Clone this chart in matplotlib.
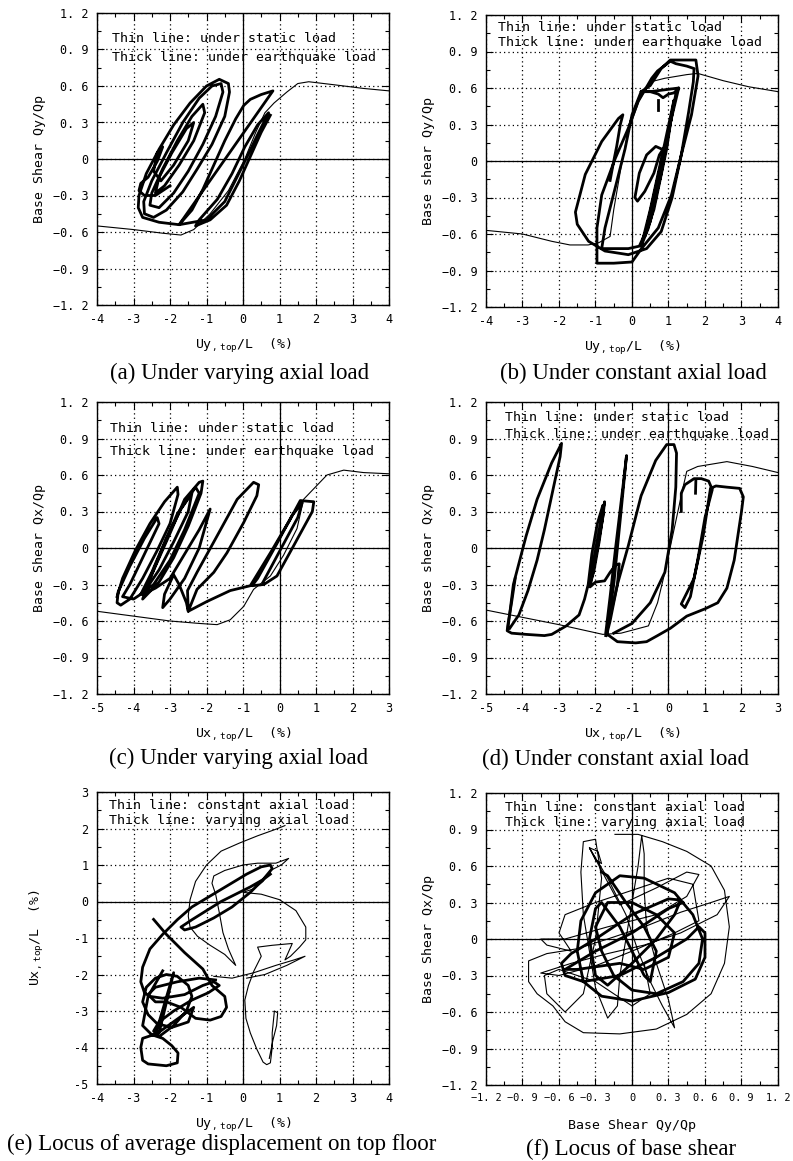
import numpy as np
import matplotlib
matplotlib.use("Agg")
import matplotlib.pyplot as plt

plt.rcParams['font.family'] = ['DejaVu Sans Mono']
plt.rcParams['mathtext.fontset'] = 'custom'
plt.rcParams['mathtext.rm'] = 'DejaVu Sans Mono'
plt.rcParams['mathtext.it'] = 'DejaVu Sans Mono'

# ---------------- data ----------------
qy_ticks = [-1.2, -0.9, -0.6, -0.3, 0, 0.3, 0.6, 0.9, 1.2]
qy_labels = ['\u22121. 2', '\u22120. 9', '\u22120. 6', '\u22120. 3', '0', '0. 3', '0. 6', '0. 9', '1. 2']
uy_ticks = [-4, -3, -2, -1, 0, 1, 2, 3, 4]
ux_ticks = [-5, -4, -3, -2, -1, 0, 1, 2, 3]
e_yticks = [-5, -4, -3, -2, -1, 0, 1, 2, 3]
f_xlabels = ['\u22121. 2', '\u22120. 9', '\u22120. 6', '\u22120. 3', '0', '0. 3', '0. 6', '0. 9', '1. 2']

# (a) varying axial load, Y direction
a_static = [(-4, -0.55), (-3, -0.58), (-2.2, -0.61), (-1.7, -0.625), (-1.35, -0.58), (-0.9, -0.45),
            (-0.4, -0.26), (0.05, 0.0), (0.35, 0.22), (0.6, 0.38), (0.85, 0.46), (1.2, 0.55),
            (1.5, 0.62), (1.8, 0.635), (2.5, 0.61), (3.3, 0.58), (4, 0.56)]
a_quake = [(0.75, 0.36), (0.5, 0.22), (0.2, 0.02), (-0.1, -0.18), (-0.45, -0.38), (-0.9, -0.5),
           (-1.3, -0.55), (-1.2, -0.5), (-0.7, -0.33), (-0.3, -0.12), (0.05, 0.1), (0.4, 0.28),
           (0.7, 0.38), (0.4, 0.2), (0.0, -0.05), (-0.5, -0.35), (-1.0, -0.5), (-1.75, -0.54),
           (0.82, 0.56), (0.5, 0.53), (0.2, 0.49), (0.02, 0.44), (-0.2, 0.33),
           (-0.5, 0.15), (-0.8, -0.05), (-1.1, -0.25), (-1.4, -0.42), (-1.75, -0.54),
           (-2.3, -0.52), (-2.75, -0.48), (-2.87, -0.4), (-2.85, -0.3), (-2.65, -0.12), (-2.3, 0.08),
           (-1.9, 0.28), (-1.45, 0.46), (-1.0, 0.6), (-0.65, 0.655), (-0.4, 0.62), (-0.37, 0.55),
           (-0.5, 0.35), (-0.85, 0.12), (-1.25, -0.08), (-1.65, -0.27), (-2.1, -0.42), (-2.45, -0.48),
           (-2.7, -0.45), (-2.72, -0.35), (-2.5, -0.18), (-2.1, 0.05), (-1.65, 0.3), (-1.2, 0.5),
           (-0.85, 0.6), (-0.6, 0.62), (-0.55, 0.55), (-0.75, 0.35), (-1.1, 0.12), (-1.5, -0.1),
           (-1.9, -0.28), (-2.3, -0.4), (-2.55, -0.38), (-2.5, -0.28), (-2.2, -0.08), (-1.8, 0.15),
           (-1.4, 0.35), (-1.1, 0.45), (-1.05, 0.38), (-1.35, 0.15), (-1.75, -0.05), (-2.15, -0.22),
           (-2.4, -0.28), (-2.3, -0.15), (-1.95, 0.05), (-1.55, 0.25), (-1.35, 0.3), (-1.5, 0.15),
           (-1.9, -0.05), (-2.25, -0.18), (-2.45, -0.1), (-2.35, 0.05), (-2.2, 0.1), (-2.35, -0.02),
           (-2.6, -0.15), (-2.8, -0.2), (-2.85, -0.26), (-2.7, -0.3), (-2.4, -0.3), (-2.0, -0.22)]

# (b) constant axial load, Y direction
b_static = [(-4, -0.57), (-3, -0.6), (-2.2, -0.66), (-1.7, -0.69), (-1.2, -0.69), (-0.9, -0.67),
            (-0.6, -0.62), (-0.5, -0.4), (-0.3, -0.05), (-0.1, 0.25), (0.2, 0.5), (0.5, 0.65),
            (0.9, 0.68), (1.5, 0.71), (1.8, 0.72), (2.5, 0.66), (3.2, 0.61), (4, 0.57)]
b_quake = [(-0.6, -0.16), (-0.5, 0.0), (-0.42, 0.12), (-0.32, 0.3), (-0.25, 0.38), (-0.37, 0.35),
           (-0.83, 0.16), (-1.28, -0.11), (-1.55, -0.42), (-1.5, -0.52), (-1.19, -0.66), (-0.74, -0.74),
           (-0.1, -0.77), (0.4, -0.72), (0.8, -0.58), (1.1, -0.3), (1.35, 0.05), (1.55, 0.4),
           (1.68, 0.65), (1.7, 0.76), (1.5, 0.78), (1.2, 0.8), (1.05, 0.82), (0.7, 0.74),
           (0.54, 0.68), (0.17, 0.49), (-0.1, 0.27), (-0.46, 0.02), (-0.83, -0.28), (-0.96, -0.55),
           (-0.96, -0.84), (-0.5, -0.84), (0.0, -0.83), (0.26, -0.72), (0.72, -0.55), (1.08, -0.28),
           (1.35, 0.05), (1.63, 0.38), (1.81, 0.7), (1.75, 0.83), (1.05, 0.83), (0.8, 0.76),
           (0.5, 0.62), (0.25, 0.57), (0.0, 0.38), (-0.19, 0.1), (-0.46, -0.22), (-0.74, -0.55),
           (-0.83, -0.72), (-0.5, -0.72), (-0.1, -0.72), (0.2, -0.7), (0.5, -0.5), (0.8, -0.1),
           (1.0, 0.25), (1.2, 0.5), (1.28, 0.6), (1.15, 0.56), (1.0, 0.55), (0.85, 0.52),
           (0.72, 0.55), (0.5, 0.57), (0.25, 0.57), (0.5, 0.57), (1.28, 0.6), (1.2, 0.55),
           (0.8, -0.1), (0.45, -0.55), (0.25, -0.7), (0.5, -0.4), (0.9, 0.15), (1.15, 0.5),
           (0.95, 0.1), (0.6, -0.4), (0.35, -0.62), (0.7, -0.15), (0.9, 0.12), (0.75, 0.05),
           (0.6, -0.1), (0.35, -0.25), (0.15, -0.33), (0.08, -0.3), (0.2, -0.1), (0.4, 0.05),
           (0.65, 0.12), (0.8, 0.1)]
b_spike = [(0.72, 0.5), (0.72, 0.42)]

# (c) varying axial load, X direction
c_static = [(-5, -0.52), (-4, -0.56), (-3, -0.6), (-2.2, -0.62), (-1.71, -0.63), (-1.35, -0.59),
            (-0.98, -0.48), (-0.71, -0.34), (-0.25, -0.23), (0.11, -0.06), (0.48, 0.16), (0.66, 0.4),
            (1.3, 0.6), (1.76, 0.64), (2.3, 0.62), (3, 0.61)]
c_quake = [(-4.45, -0.4), (-4.3, -0.25), (-3.95, -0.02), (-3.55, 0.2), (-3.15, 0.38), (-2.8, 0.5),
           (-2.78, 0.44), (-3.0, 0.2), (-3.35, -0.02), (-3.75, -0.25), (-4.1, -0.42), (-4.35, -0.47),
           (-4.45, -0.45), (-4.42, -0.36), (-4.1, -0.15), (-3.7, 0.08), (-3.35, 0.25), (-3.3, 0.2),
           (-3.7, -0.05), (-4.1, -0.3), (-4.3, -0.4), (-4.0, -0.42), (-3.7, -0.36), (-3.4, -0.15),
           (-3.0, 0.12), (-2.6, 0.4), (-2.2, 0.54), (-2.1, 0.55), (-2.15, 0.45), (-2.5, 0.18),
           (-2.9, -0.08), (-3.3, -0.28), (-3.75, -0.42), (-3.55, -0.25), (-3.2, 0.0), (-2.8, 0.28),
           (-2.3, 0.5), (-2.2, 0.45), (-2.6, 0.15), (-3.0, -0.1), (-3.45, -0.3), (-3.8, -0.38),
           (-3.5, -0.2), (-3.1, 0.08), (-2.7, 0.32), (-2.4, 0.45), (-2.5, 0.3), (-2.9, 0.05),
           (-3.3, -0.18), (-3.75, -0.38), (-3.4, -0.33), (-3.0, -0.25), (-2.6, -0.05), (-2.2, 0.15),
           (-1.9, 0.32), (-2.2, 0.0), (-2.6, -0.25), (-3.0, -0.42), (-3.2, -0.49), (-3.15, -0.38),
           (-2.9, -0.22), (-2.75, -0.3), (-2.55, -0.45), (-2.5, -0.52), (-2.52, -0.35), (-2.26, -0.2),
           (-1.8, 0.05), (-1.16, 0.4), (-0.71, 0.54), (-0.57, 0.52), (-0.62, 0.43), (-0.98, 0.21),
           (-1.44, -0.04), (-1.8, -0.2), (-2.26, -0.34), (-2.5, -0.52), (-1.99, -0.44), (-1.35, -0.35),
           (-0.8, -0.31), (-0.25, -0.04), (0.3, 0.24), (0.57, 0.39), (0.94, 0.38), (0.9, 0.3),
           (0.39, 0.02), (-0.07, -0.23), (-0.43, -0.3), (-0.75, -0.31), (-0.6, -0.25), (-0.1, 0.02),
           (0.35, 0.27), (0.62, 0.37), (0.5, 0.25), (0.05, 0.0), (-0.45, -0.28)]

# (d) constant axial load, X direction
d_static = [(-5, -0.51), (-4, -0.57), (-3, -0.63), (-1.8, -0.71), (-1.3, -0.7), (-0.55, -0.64),
            (-0.3, -0.45), (-0.1, -0.2), (0.15, 0.15), (0.4, 0.5), (0.5, 0.63), (0.8, 0.67),
            (1.6, 0.71), (2.3, 0.67), (3, 0.62)]
d_quake = [(-4.2, -0.25), (-4.3, -0.45), (-4.4, -0.63), (-4.42, -0.68), (-4.3, -0.7), (-3.9, -0.71),
           (-3.4, -0.72), (-3.2, -0.71), (-2.8, -0.64), (-2.45, -0.55), (-2.3, -0.42), (-2.2, -0.3),
           (-2.1, -0.05), (-1.95, 0.2), (-1.8, 0.35), (-1.78, 0.3), (-1.9, 0.05), (-2.05, -0.2),
           (-2.15, -0.28), (-2.05, -0.1), (-1.9, 0.15), (-1.75, 0.38), (-1.8, 0.25), (-1.95, 0.0),
           (-2.1, -0.25), (-2.15, -0.32), (-2.0, -0.28), (-1.75, -0.27), (-1.6, -0.2), (-1.45, -0.14),
           (-1.35, -0.13), (-1.4, -0.3), (-1.6, -0.6), (-1.7, -0.72), (-1.5, -0.3), (-1.3, 0.3),
           (-1.15, 0.76), (-1.25, 0.5), (-1.45, 0.0), (-1.6, -0.4), (-1.72, -0.7), (-1.4, -0.77),
           (-0.9, -0.78), (-0.6, -0.77), (-0.3, -0.72), (0.05, -0.66), (0.5, -0.56), (1.0, -0.5),
           (1.35, -0.45), (1.6, -0.33), (1.8, -0.1), (1.9, 0.1), (2.0, 0.3), (2.05, 0.42),
           (1.95, 0.49), (1.6, 0.5), (1.3, 0.51), (1.15, 0.49), (0.95, 0.1), (0.7, -0.25),
           (0.35, -0.46), (0.45, -0.49), (0.6, -0.4), (0.8, -0.1), (1.0, 0.25), (1.2, 0.48),
           (1.1, 0.55), (0.9, 0.57), (0.7, 0.57), (0.45, 0.52), (0.35, 0.45), (0.35, 0.3)]
d_quake2 = [(-4.4, -0.66), (-4.25, -0.3), (-3.9, 0.1), (-3.6, 0.4), (-3.2, 0.7), (-2.93, 0.86),
            (-2.97, 0.75), (-3.15, 0.5), (-3.4, 0.15), (-3.6, -0.1), (-3.85, -0.35), (-4.1, -0.55),
            (-4.35, -0.66)]
d_quake3 = [(-1.72, -0.72), (-1.4, -0.3), (-1.1, 0.02), (-0.75, 0.43), (-0.35, 0.72), (-0.05, 0.85),
            (0.15, 0.85), (0.22, 0.78), (0.2, 0.5), (0.1, 0.15), (-0.1, -0.2), (-0.5, -0.45),
            (-1.0, -0.62), (-1.5, -0.7)]
d_spike = [(0.75, 0.56), (0.74, 0.45)]

# (e) locus of top-floor displacement (x: Uy, y: Ux)
e_const = [(1.15, 2.08), (0.9, 1.98), (0.4, 1.8), (-0.1, 1.6), (-0.6, 1.38), (-1.0, 1.0),
           (-1.3, 0.55), (-1.45, 0.05), (-1.5, -0.4), (-1.45, -0.7), (-1.25, -0.95), (-0.9, -1.2),
           (-0.5, -1.45), (-0.2, -1.75), (-0.4, -1.3), (-0.55, -0.85), (-0.65, -0.3), (-0.75, 0.2),
           (-0.85, 0.5), (-0.8, 0.7), (-0.5, 0.85), (0.0, 1.0), (0.4, 1.05), (0.9, 1.05),
           (1.25, 1.18), (1.05, 1.0), (0.75, 0.85), (0.55, 0.55), (0.3, 0.35), (0.0, 0.25),
           (0.5, 0.2), (1.0, 0.05), (1.45, -0.25), (1.72, -0.7), (1.72, -1.05), (1.55, -1.25),
           (1.3, -1.5), (1.15, -1.6), (1.35, -1.15), (0.8, -1.2), (0.4, -1.25), (0.5, -1.5),
           (0.3, -1.9), (0.15, -2.3), (0.05, -2.7), (0.08, -3.2), (0.2, -3.6), (0.38, -4.05),
           (0.55, -4.4), (0.65, -4.47), (0.75, -4.42), (0.8, -4.0), (0.8, -3.6), (0.86, -3.0),
           (0.95, -3.05), (0.92, -3.4), (0.82, -3.8), (0.72, -4.3)]
e_const2 = [(-0.8, -2.05), (-0.3, -2.1), (0.3, -1.95), (0.9, -1.75), (1.4, -1.6), (1.7, -1.5),
            (1.2, -1.75), (0.6, -2.0), (0.1, -2.1)]
e_vary = [(0.75, 0.75), (0.55, 0.6), (0.2, 0.4), (-0.2, 0.2), (-0.6, 0.0), (-1.0, -0.25),
          (-1.4, -0.5), (-1.7, -0.7), (-1.6, -0.78), (-1.3, -0.7), (-0.8, -0.45), (-0.3, -0.15),
          (0.2, 0.25), (0.55, 0.6), (0.8, 0.9), (0.75, 1.0), (0.5, 0.95), (0.1, 0.75),
          (-0.4, 0.45), (-0.9, 0.15), (-1.4, -0.15), (-1.8, -0.5), (-2.2, -0.9), (-2.55, -1.3),
          (-2.75, -1.8), (-2.8, -2.2), (-2.7, -2.5), (-2.55, -2.6), (-2.2, -2.65), (-1.6, -2.55),
          (-1.1, -2.3), (-0.8, -2.2), (-0.65, -2.3), (-0.95, -2.5), (-1.4, -2.7), (-1.9, -3.0),
          (-2.3, -3.3), (-2.45, -3.55), (-2.3, -3.7), (-1.9, -3.4), (-1.55, -3.0), (-1.4, -2.6),
          (-1.5, -2.3), (-1.8, -2.05), (-2.1, -2.0), (-2.4, -2.1), (-2.65, -2.35), (-2.75, -2.75),
          (-2.6, -3.1), (-2.35, -3.35), (-1.95, -3.45), (-1.5, -3.3), (-1.35, -2.9), (-2.4, -3.65),
          (-1.9, -1.95), (-2.3, -3.6), (-2.75, -3.75), (-2.8, -4.0), (-2.75, -4.35), (-2.6, -4.45),
          (-2.1, -4.5), (-1.8, -4.42), (-1.78, -4.15), (-1.95, -3.95), (-2.2, -3.75), (-2.5, -3.65),
          (-2.75, -3.4), (-2.6, -2.6), (-2.2, -1.9)]
e_vary2 = [(-2.45, -0.49), (-2.1, -0.9), (-1.6, -1.4), (-1.1, -1.85), (-0.85, -2.3), (-0.5, -2.6),
           (-0.45, -2.9), (-0.6, -3.15), (-0.9, -3.25), (-1.3, -3.2), (-1.7, -2.9), (-2.1, -2.75),
           (-2.4, -2.75), (-2.6, -2.55), (-2.4, -2.35), (-1.8, -2.2), (-1.2, -2.1), (-0.75, -2.15)]

# (f) locus of base shear (x: Qy/Qp, y: Qx/Qp)
f_const = [(-0.14, 0.86), (0.05, 0.86), (0.25, 0.8), (0.45, 0.72), (0.65, 0.6), (0.76, 0.4),
           (0.8, 0.1), (0.76, -0.2), (0.65, -0.45), (0.45, -0.62), (0.2, -0.74), (-0.1, -0.78),
           (-0.4, -0.77), (-0.55, -0.68), (-0.65, -0.55), (-0.78, -0.45), (-0.85, -0.35),
           (-0.85, -0.18), (-0.7, -0.12), (-0.45, -0.08), (-0.2, 0.0), (0.1, 0.1), (0.4, 0.22),
           (0.65, 0.3), (0.8, 0.35), (0.7, 0.2), (0.4, 0.05), (0.1, -0.05), (-0.2, -0.12),
           (-0.5, -0.2), (-0.75, -0.28), (-0.6, -0.3), (-0.3, -0.22), (0.0, -0.1), (0.35, 0.05),
           (0.55, 0.15), (0.5, 0.45), (0.3, 0.5), (0.0, 0.4), (-0.3, 0.3), (-0.55, 0.2),
           (-0.6, 0.05), (-0.5, -0.1), (-0.7, -0.05), (-0.75, 0.0), (-0.55, 0.0), (-0.2, 0.1),
           (0.2, 0.2), (0.45, 0.35), (0.55, 0.53), (0.45, 0.55), (0.2, 0.42), (-0.1, 0.28),
           (-0.35, 0.75), (-0.3, 0.65), (-0.25, 0.62), (-0.28, 0.72), (-0.35, 0.75), (-0.2, 0.5),
           (-0.05, 0.2), (0.05, -0.1), (0.15, -0.35), (0.25, -0.55), (0.35, -0.73), (0.3, -0.5),
           (0.2, -0.2), (0.12, 0.1), (0.1, 0.4), (0.1, 0.7), (0.08, 0.85), (0.05, 0.6),
           (0.0, 0.3), (-0.05, 0.0), (-0.1, -0.3), (-0.12, -0.55), (-0.2, -0.65), (-0.3, -0.4),
           (-0.35, -0.1), (-0.4, 0.2), (-0.42, 0.55), (-0.4, 0.8), (-0.3, 0.82), (-0.25, 0.5),
           (-0.3, 0.0), (-0.4, -0.45), (-0.55, -0.6), (-0.7, -0.45), (-0.72, -0.3), (-0.6, -0.25),
           (-0.3, -0.35), (0.0, -0.55), (0.15, -0.45), (0.1, -0.2)]
f_vary = [(-0.25, 0.55), (-0.2, 0.52), (-0.05, 0.3), (0.1, 0.1), (0.2, -0.1), (0.15, -0.35),
          (0.1, -0.3), (0.0, -0.1), (-0.1, 0.1), (-0.25, 0.3), (-0.3, 0.25), (-0.35, 0.0),
          (-0.3, -0.3), (-0.2, -0.38), (0.0, -0.2), (0.2, 0.0), (0.35, 0.2), (0.4, 0.32),
          (0.3, 0.33), (0.0, 0.2), (-0.3, 0.0), (-0.5, -0.12), (-0.58, -0.2), (-0.55, -0.3),
          (-0.4, -0.35), (-0.1, -0.3), (0.2, -0.15), (0.45, 0.0), (0.55, 0.1), (0.6, 0.05),
          (0.6, -0.15), (0.52, -0.33), (0.3, -0.44), (0.0, -0.51), (-0.25, -0.47), (-0.4, -0.35),
          (-0.45, -0.1), (-0.42, 0.15), (-0.3, 0.38), (-0.1, 0.52), (0.1, 0.5), (0.35, 0.38),
          (0.5, 0.2), (0.58, 0.0), (0.55, -0.2), (0.42, -0.35), (0.2, -0.45), (0.0, -0.42),
          (-0.15, -0.3), (-0.25, -0.1), (-0.3, 0.1), (-0.2, 0.3), (0.0, 0.3), (0.2, 0.2),
          (0.35, 0.05), (0.3, -0.15), (0.1, -0.25), (-0.1, -0.2), (-0.45, -0.25), (-0.55, -0.25),
          (-0.3, -0.1), (0.0, 0.05), (0.3, 0.25), (0.42, 0.3)]

captions = ['(a) Under varying axial load', '(b) Under constant axial load',
            '(c) Under varying axial load', '(d) Under constant axial load',
            '(e) Locus of average displacement on top floor', '(f) Locus of base shear']
note_static = ['Thin line: under static load', 'Thick line: under earthquake load']
note_axial = ['Thin line: constant axial load', 'Thick line: varying axial load']


def xy(pts):
    arr = np.array(pts)
    return arr[:, 0], arr[:, 1]


def setup(ax, xticks, yticks, xlabels, ylabels, xminor, yminor, xlabel, ylabel, notes, note_pos,
          xtick_size=8.5):
    ax.set_xlim(xticks[0], xticks[-1])
    ax.set_ylim(yticks[0], yticks[-1])
    ax.set_xticks(xticks)
    ax.set_yticks(yticks)
    ax.set_xticklabels(xlabels, fontsize=xtick_size)
    ax.set_yticklabels(ylabels, fontsize=8.5)
    ax.set_xticks(xminor, minor=True)
    ax.set_yticks(yminor, minor=True)
    ax.tick_params(which='both', direction='in', top=True, right=True, width=0.8)
    ax.tick_params(which='major', length=5, pad=6)
    ax.tick_params(which='minor', length=3)
    ax.grid(True, which='major', linestyle=(0, (1, 2.5)), color='black', linewidth=0.9)
    ax.axhline(0, color='black', lw=0.9, zorder=2)
    ax.axvline(0, color='black', lw=0.9, zorder=2)
    for s in ax.spines.values():
        s.set_linewidth(1.0)
    ax.set_xlabel(xlabel, fontsize=9.5)
    ax.set_ylabel(ylabel, fontsize=9.5)
    ax.xaxis.label.set_va('center')
    ax.yaxis.set_label_coords(-0.175, 0.5)
    ax.xaxis.set_label_coords(0.5, -0.14)
    nx, ny1, ny2 = note_pos
    ax.text(nx, ny1, notes[0], transform=ax.transAxes, fontsize=9.5, va='center', ha='left')
    ax.text(nx, ny2, notes[1], transform=ax.transAxes, fontsize=9.5, va='center', ha='left')


fig = plt.figure(figsize=(7.93, 11.61), dpi=100)
W, H = 793.0, 1161.0


def add_axes(left, top):
    return fig.add_axes([left / W, 1 - (top + 292) / H, 292 / W, 292 / H])


uy_lab = r'Uy$_{\rm ,\ top}$/L  (%)'
ux_lab = r'Ux$_{\rm ,\ top}$/L  (%)'
qy_minor = np.arange(-1.2, 1.21, 0.15)
thin, thick = 0.8, 2.0

ax_a = add_axes(97, 13)
ax_b = add_axes(486, 15)
ax_c = add_axes(97, 402)
ax_d = add_axes(486, 402)
ax_e = add_axes(97, 792)
ax_f = add_axes(486, 793)

setup(ax_a, uy_ticks, qy_ticks, [str(t) for t in uy_ticks], qy_labels, np.arange(-4, 4.1, 0.5), qy_minor,
      uy_lab, 'Base Shear Qy/Qp', note_static, (0.05, 0.914, 0.846))
ax_a.plot(*xy(a_static), color='black', lw=thin)
ax_a.plot(*xy(a_quake), color='black', lw=thick)

setup(ax_b, uy_ticks, qy_ticks, [str(t) for t in uy_ticks], qy_labels, np.arange(-4, 4.1, 0.5), qy_minor,
      uy_lab, 'Base shear Qy/Qp', note_static, (0.04, 0.958, 0.907))
ax_b.plot(*xy(b_static), color='black', lw=thin)
ax_b.plot(*xy(b_quake), color='black', lw=thick)
ax_b.plot(*xy(b_spike), color='black', lw=thick)

setup(ax_c, ux_ticks, qy_ticks, [str(t) for t in ux_ticks], qy_labels, np.arange(-5, 3.1, 0.5), qy_minor,
      ux_lab, 'Base Shear Qx/Qp', note_static, (0.045, 0.908, 0.832))
ax_c.plot(*xy(c_static), color='black', lw=thin)
ax_c.plot(*xy(c_quake), color='black', lw=thick)

setup(ax_d, ux_ticks, qy_ticks, [str(t) for t in ux_ticks], qy_labels, np.arange(-5, 3.1, 0.5), qy_minor,
      ux_lab, 'Base shear Qx/Qp', note_static, (0.065, 0.948, 0.889))
ax_d.plot(*xy(d_static), color='black', lw=thin)
for pts in (d_quake, d_quake2, d_quake3, d_spike):
    ax_d.plot(*xy(pts), color='black', lw=thick)

setup(ax_e, uy_ticks, e_yticks, [str(t) for t in uy_ticks], [str(t) for t in e_yticks],
      np.arange(-4, 4.1, 0.5), np.arange(-5, 3.1, 0.5), uy_lab, ux_lab, note_axial, (0.04, 0.954, 0.903))
ax_e.plot(*xy(e_const), color='black', lw=thin)
ax_e.plot(*xy(e_const2), color='black', lw=thin)
ax_e.plot(*xy(e_vary), color='black', lw=thick)
ax_e.plot(*xy(e_vary2), color='black', lw=thick)

setup(ax_f, qy_ticks, qy_ticks, f_xlabels, qy_labels, qy_minor, qy_minor,
      'Base Shear Qy/Qp', 'Base Shear Qx/Qp', note_axial, (0.065, 0.952, 0.898), xtick_size=7.4)
ax_f.plot(*xy(f_const), color='black', lw=thin)
ax_f.plot(*xy(f_vary), color='black', lw=thick)

cap_pos = [(240, 373), (633, 373), (239, 758), (616, 759), (222, 1144), (631, 1149)]
for (cx, cy), cap in zip(cap_pos, captions):
    fig.text(cx / W, 1 - cy / H, cap, ha='center', va='center', fontsize=16.5,
             family=['Liberation Serif', 'DejaVu Serif'])

fig.savefig('out.png', dpi=100)
